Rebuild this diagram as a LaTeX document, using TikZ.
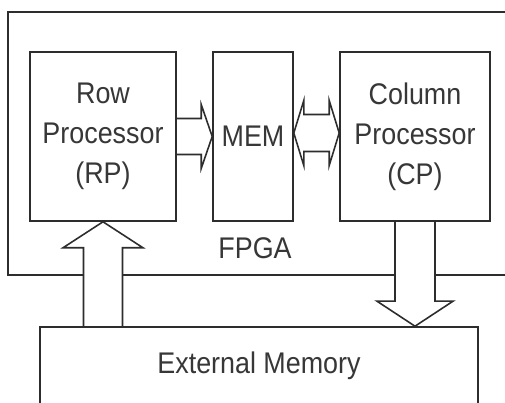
\documentclass[tikz,border=0pt]{standalone}
\usepackage{fontspec}
\setmainfont{Liberation Sans}[FakeStretch=0.9]
\usepackage{xcolor}
\usetikzlibrary{calc,backgrounds}
\definecolor{linegray}{RGB}{45,45,45}
\definecolor{textgray}{RGB}{55,55,55}

\begin{document}
\begin{tikzpicture}[
    font=\fontsize{17}{22.8}\selectfont,text=textgray,
    box/.style={draw=linegray,fill=white,line width=0.9pt,inner sep=0pt,
                minimum width=2.92cm,minimum height=3.38cm,align=center},
    blockarrow/.style={draw=linegray,fill=white,line width=0.9pt,line join=miter}
]
\useasboundingbox (0,0) rectangle (10.1,8.06);
\node[box] (rp) at (2.06,5.33) {Row\\Processor\\(RP)};
\node[box,minimum width=1.6cm] (mem) at (5.06,5.33) {MEM};
\node[box,minimum width=3.0cm] (cp) at (8.3,5.33) {Column\\Processor\\(CP)};
\node[box,minimum width=8.76cm,minimum height=1.56cm] (ext) at (5.18,0.74) {External Memory};
\node (fpgalabel) at (5.1,3.1) {FPGA};

\begin{scope}[on background layer]
\fill[white] (0,0) rectangle (10.1,8.06);
\node[box,minimum width=10.24cm,minimum height=5.26cm] (fpga) at (5.28,5.19) {};
% RP -> MEM
\filldraw[blockarrow] ($(rp.east)+(0,0.36)$) -- ($(mem.west)+(-0.22,0.36)$) -- ++(0,0.28)
    -- (mem.west) -- ($(mem.west)+(-0.22,-0.64)$) -- ++(0,0.28) -- ($(rp.east)+(0,-0.36)$);
% MEM <-> CP
\filldraw[blockarrow] ($(mem.east)+(0,0.07)$) -- ++(0.2,0.65) -- ++(0,-0.28)
    -- ($(cp.west)+(-0.2,0.44)$) -- ++(0,0.28) -- ($(cp.west)+(0,0.07)$)
    -- ($(cp.west)+(-0.2,-0.58)$) -- ++(0,0.28) -- ($(mem.east)+(0.2,-0.30)$)
    -- ++(0,-0.28) -- cycle;
% CP -> external memory
\filldraw[blockarrow] ($(cp.south)+(-0.4,0)$) -- ($(cp.south |- ext.north)+(-0.4,0.5)$) -- ++(-0.36,0)
    -- (cp.south |- ext.north) -- ($(cp.south |- ext.north)+(0.76,0.5)$) -- ++(-0.36,0)
    -- ($(cp.south)+(0.4,0)$);
% external memory -> RP
\filldraw[blockarrow] ($(rp.south |- ext.north)+(-0.39,0)$) -- ($(rp.south)+(-0.39,-0.52)$) -- ++(-0.41,0)
    -- (rp.south) -- ($(rp.south)+(0.8,-0.52)$) -- ++(-0.41,0)
    -- ($(rp.south |- ext.north)+(0.39,0)$);
\end{scope}
\end{tikzpicture}
\end{document}
